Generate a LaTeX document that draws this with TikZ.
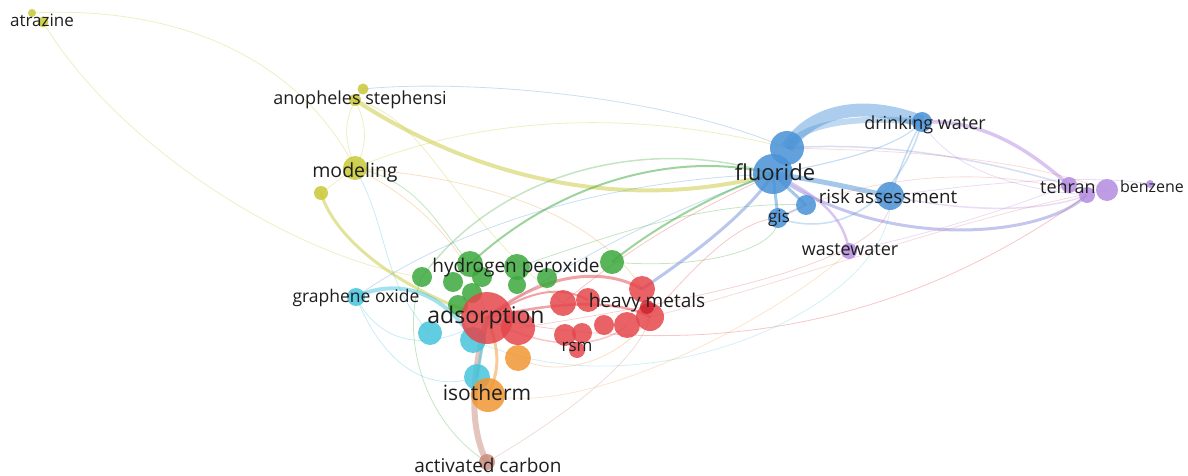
\documentclass[tikz,border=0pt]{standalone}
\usepackage{fontspec}
\setmainfont{Open Sans}
\usetikzlibrary{backgrounds}
\definecolor{cred}{RGB}{228,70,75}
\definecolor{cdred}{RGB}{205,35,45}
\definecolor{cgreen}{RGB}{60,168,60}
\definecolor{cblue}{RGB}{72,145,214}
\definecolor{cyel}{RGB}{200,200,55}
\definecolor{ccyan}{RGB}{70,196,220}
\definecolor{corange}{RGB}{240,150,50}
\definecolor{cpurple}{RGB}{180,140,225}
\definecolor{cbrown}{RGB}{200,140,125}
\definecolor{ctext}{RGB}{30,30,30}
\tikzset{
  bub/.style={circle,inner sep=0pt,draw=none,fill opacity=0.85},
  lab/.style={text=ctext,inner sep=0pt,font=\fontsize{#1}{#1}\selectfont},
  ed/.style={draw opacity=0.3,line width=0.8pt},
  thk/.style={draw opacity=0.5}
}
\begin{document}
\begin{tikzpicture}[x=1pt,y=-1pt]
\useasboundingbox (0,0) rectangle (1188,476);
% ---------- bubbles ----------
% yellow
\node[bub,fill=cyel,minimum size=8pt] (atz0) at (32,13) {};
\node[bub,fill=cyel,minimum size=11pt] (atz) at (43,22) {};
\node[bub,fill=cyel,minimum size=11pt] (an1) at (363,89) {};
\node[bub,fill=cyel,minimum size=12pt] (an2) at (355,100) {};
\node[bub,fill=cyel,minimum size=24pt] (mod) at (355,168) {};
\node[bub,fill=cyel,minimum size=14pt] (ysm) at (321,193) {};
% green
\node[bub,fill=cgreen,minimum size=20pt] (g1) at (422,277) {};
\node[bub,fill=cgreen,minimum size=20pt] (g2) at (453,282) {};
\node[bub,fill=cgreen,minimum size=26pt] (g3) at (470,264) {};
\node[bub,fill=cgreen,minimum size=20pt] (g4) at (482,277) {};
\node[bub,fill=cgreen,minimum size=26pt] (g5) at (517,267) {};
\node[bub,fill=cgreen,minimum size=18pt] (g6) at (517,285) {};
\node[bub,fill=cgreen,minimum size=20pt] (g7) at (547,278) {};
\node[bub,fill=cgreen,minimum size=24pt] (g8) at (612,262) {};
\node[bub,fill=cgreen,minimum size=20pt] (g9) at (458,305) {};
\node[bub,fill=cgreen,minimum size=20pt] (g10) at (472,293) {};
% cyan
\node[bub,fill=ccyan,minimum size=18pt] (gr) at (356,297) {};
\node[bub,fill=ccyan,minimum size=24pt] (c2) at (430,333) {};
\node[bub,fill=ccyan,minimum size=26pt] (c3) at (473,340) {};
\node[bub,fill=ccyan,minimum size=26pt] (c4) at (477,377) {};
% orange
\node[bub,fill=corange,minimum size=26pt] (o1) at (518,358) {};
\node[bub,fill=corange,minimum size=34pt] (o2) at (488,395) {};
% brown
\node[bub,fill=cbrown,minimum size=16pt] (ac) at (487,462) {};
% red
\node[bub,fill=cred,minimum size=52pt] (ads) at (487,318) {};
\node[bub,fill=cred,minimum size=34pt] (r2) at (518,328) {};
\node[bub,fill=cred,minimum size=26pt] (r3) at (563,303) {};
\node[bub,fill=cred,minimum size=24pt] (r4) at (588,300) {};
\node[bub,fill=cred,minimum size=26pt] (r5) at (642,289) {};
\node[bub,fill=cred,minimum size=28pt] (r6) at (650,317) {};
\node[bub,fill=cred,minimum size=26pt] (r7) at (627,325) {};
\node[bub,fill=cred,minimum size=20pt] (r8) at (604,325) {};
\node[bub,fill=cred,minimum size=22pt] (r9) at (565,335) {};
\node[bub,fill=cred,minimum size=20pt] (r10) at (582,333) {};
\node[bub,fill=cred,minimum size=16pt] (r11) at (577,350) {};
\node[bub,fill=cdred,minimum size=14pt] (r12) at (647,307) {};
% blue
\node[bub,fill=cblue,minimum size=34pt] (F1) at (787,148) {};
\node[bub,fill=cblue,minimum size=40pt] (F2) at (773,174) {};
\node[bub,fill=cblue,minimum size=20pt] (D) at (922,122) {};
\node[bub,fill=cblue,minimum size=28pt] (R) at (890,196) {};
\node[bub,fill=cblue,minimum size=20pt] (b5) at (806,205) {};
\node[bub,fill=cblue,minimum size=20pt] (gis) at (778,218) {};
% purple
\node[bub,fill=cpurple,minimum size=16pt] (ww) at (849,251) {};
\node[bub,fill=cpurple,minimum size=16pt] (t1) at (1069,185) {};
\node[bub,fill=cpurple,minimum size=16pt] (t2) at (1087,195) {};
\node[bub,fill=cpurple,minimum size=22pt] (t3) at (1107,190) {};
\node[bub,fill=cpurple,minimum size=8pt] (bz) at (1150,184) {};
% ---------- links ----------
\begin{scope}[on background layer]
% blue cluster
\draw[cblue,draw opacity=0.45,line width=13pt] (F1.center) .. controls (810,112) and (860,98) .. (D.center);
\draw[cblue,draw opacity=0.35,line width=6pt] (F1.center) .. controls (800,125) and (850,115) .. (D.center);
\draw[cpurple,thk,line width=3.5pt] (D.center) .. controls (990,118) and (1040,160) .. (t1.center);
\draw[cblue!50!cpurple,ed,line width=1.5pt] (F1.center) .. controls (900,140) and (1000,165) .. (t1.center);
\draw[cblue!40!cpurple,thk,line width=3pt] (F2.center) .. controls (880,250) and (1040,240) .. (t2.center);
\draw[cpurple,ed,line width=1.5pt] (R.center) .. controls (980,215) and (1050,210) .. (t2.center);
\draw[cblue,thk,line width=5pt] (F2.center) .. controls (820,180) and (860,190) .. (R.center);
\draw[cblue,ed,line width=1.5pt] (R.center) .. controls (900,170) and (910,140) .. (D.center);
\draw[cblue,ed,line width=1.2pt] (F2.center) .. controls (850,160) and (900,145) .. (D.center);
\draw[cblue,ed,line width=1.5pt] (gis.center) .. controls (840,240) and (900,200) .. (D.center);
\draw[cpurple,thk,line width=2.5pt] (F2.center) .. controls (830,200) and (845,225) .. (ww.center);
\draw[cblue,thk,line width=3pt] (F2.center) -- (gis.center);
\draw[cblue,thk,line width=3pt] (F2.center) -- (b5.center);
\draw[cblue,ed,line width=2pt] (b5.center) -- (gis.center);
\draw[cpurple,ed] (D.center) .. controls (950,170) and (1020,190) .. (t2.center);
\draw[cpurple,ed] (R.center) .. controls (1000,180) and (1100,175) .. (bz.center);
\draw[cpurple,ed] (ww.center) .. controls (950,230) and (1030,200) .. (t1.center);
\draw[cred,ed,draw opacity=0.2] (F1.center) .. controls (850,150) and (1000,150) .. (t3.center);
\draw[cred,ed,draw opacity=0.2] (gis.center) .. controls (850,180) and (980,160) .. (t2.center);
% yellow cluster
\draw[cyel,thk,line width=4pt] (an2.center) .. controls (470,175) and (620,215) .. (F2.center);
\draw[cyel,ed] (mod.center) .. controls (470,120) and (620,105) .. (F1.center);
\draw[cblue,ed] (F1.center) .. controls (650,90) and (450,80) .. (an1.center);
\draw[cyel,thk,line width=3pt] (ysm.center) .. controls (335,240) and (400,290) .. (ads.center);
\draw[cyel,ed] (atz.center) .. controls (120,150) and (300,260) .. (g1.center);
\draw[cyel,ed] (atz0.center) .. controls (180,5) and (300,60) .. (mod.center);
\draw[cyel,ed] (an1.center) .. controls (340,120) and (345,140) .. (mod.center);
\draw[cyel,ed] (an2.center) .. controls (370,130) and (365,150) .. (mod.center);
\draw[cyel,ed] (mod.center) -- (ysm.center);
\draw[cyel,ed] (an2.center) .. controls (430,120) and (440,200) .. (r3.center);
\draw[corange,ed] (mod.center) .. controls (420,200) and (470,250) .. (ads.center);
\draw[corange,ed] (mod.center) .. controls (500,180) and (600,220) .. (r5.center);
\draw[ccyan,ed] (mod.center) .. controls (390,230) and (380,280) .. (c2.center);
\draw[cgreen,ed] (mod.center) .. controls (420,180) and (440,230) .. (g3.center);
% green links
\draw[cgreen,thk,line width=2pt] (g3.center) .. controls (560,180) and (680,150) .. (F2.center);
\draw[cgreen,ed,line width=1.5pt] (g1.center) .. controls (500,170) and (650,135) .. (F2.center);
\draw[cgreen,thk,line width=2pt] (g8.center) .. controls (650,230) and (720,190) .. (F2.center);
\draw[cgreen,ed] (g5.center) .. controls (600,240) and (700,200) .. (b5.center);
\draw[cgreen,ed] (g8.center) .. controls (700,270) and (780,250) .. (gis.center);
% red / heavy metals
\draw[cblue!60!cpurple,thk,line width=3pt] (r5.center) .. controls (700,250) and (750,210) .. (F2.center);
\draw[cred,ed] (r6.center) .. controls (700,260) and (740,220) .. (gis.center);
\draw[cred,ed] (r3.center) .. controls (650,230) and (720,200) .. (F2.center);
\draw[cblue,ed] (ads.center) .. controls (600,240) and (700,200) .. (F2.center);
\draw[cblue,ed] (F2.center) .. controls (600,180) and (450,230) .. (gr.center);
\draw[cred,thk,line width=3pt] (ads.center) .. controls (540,275) and (600,265) .. (r5.center);
\draw[cred,thk,line width=2.5pt] (ads.center) .. controls (560,300) and (620,300) .. (r6.center);
\draw[cred,thk,line width=2pt] (ads.center) .. controls (530,290) and (560,285) .. (r4.center);
\draw[cred,ed,line width=1.5pt] (ads.center) .. controls (540,350) and (600,350) .. (r7.center);
\draw[cred,ed] (ads.center) .. controls (700,360) and (900,330) .. (t2.center);
\draw[cred,ed,draw opacity=0.2] (r6.center) .. controls (800,280) and (950,220) .. (t3.center);
\draw[cred,ed,draw opacity=0.25] (r2.center) .. controls (700,300) and (900,260) .. (R.center);
\draw[ccyan,ed,draw opacity=0.25] (c3.center) .. controls (650,420) and (900,300) .. (R.center);
\draw[corange,ed,draw opacity=0.25] (o2.center) .. controls (600,420) and (800,300) .. (ww.center);
% cyan / orange / brown
\draw[ccyan,thk,line width=4pt] (gr.center) .. controls (390,280) and (440,285) .. (c3.center);
\draw[ccyan,ed] (gr.center) .. controls (380,345) and (430,355) .. (ads.center);
\draw[ccyan,ed] (gr.center) .. controls (390,380) and (440,390) .. (c4.center);
\draw[cbrown,thk,line width=6pt] (ac.center) .. controls (470,430) and (470,380) .. (ads.center);
\draw[corange,thk,line width=3pt] (o2.center) .. controls (500,370) and (500,350) .. (ads.center);
\draw[ccyan,thk,line width=3pt] (c4.center) -- (ads.center);
\draw[corange,ed] (o1.center) .. controls (560,380) and (620,360) .. (r6.center);
\draw[cbrown,ed] (ac.center) .. controls (560,420) and (640,360) .. (r6.center);
\draw[cgreen,ed] (ac.center) .. controls (420,420) and (400,330) .. (g1.center);
\end{scope}
% ---------- labels ----------
\node[lab=17] (Latz) at (42,20) {atrazine};
\node[lab=18] (Lan) at (360,100) {anopheles stephensi};
\node[lab=19.5] (Lmod) at (355,172) {modeling};
\node[lab=19] (Lhp) at (516,268) {hydrogen peroxide};
\node[lab=17.5] (Lgr) at (356,298) {graphene oxide};
\node[lab=23] (Lads) at (486,318) {adsorption};
\node[lab=19] (Lhm) at (647,303) {heavy metals};
\node[lab=17] (Lrsm) at (577,347) {rsm};
\node[lab=21] (Liso) at (487,393) {isotherm};
\node[lab=19] (Lac) at (488,465) {activated carbon};
\node[lab=22] (Lfl) at (775,172) {fluoride};
\node[lab=18] (Ldw) at (925,125) {drinking water};
\node[lab=18.7] (Lra) at (888,196) {risk assessment};
\node[lab=17] (Lgis) at (779,218) {gis};
\node[lab=18] (Lww) at (850,250) {wastewater};
\node[lab=18] (Lteh) at (1068,187) {tehran};
\node[lab=16] (Lbz) at (1152,186) {benzene};
\end{tikzpicture}
\end{document}
